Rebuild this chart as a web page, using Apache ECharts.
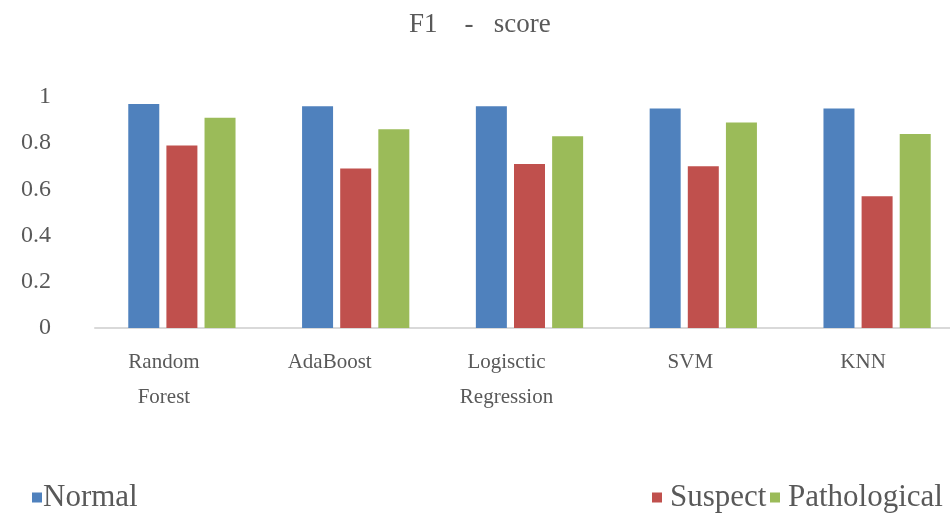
<!DOCTYPE html>
<html>
<head>
<meta charset="utf-8">
<script src="https://cdn.jsdelivr.net/npm/echarts@6/dist/echarts.min.js"></script>
<style>
html,body{margin:0;padding:0;background:#fff;}
#chart{width:950px;height:513px;}
</style>
</head>
<body>
<div id="chart"></div>
<script>
const categories = ['Random\nForest', 'AdaBoost', 'Logisctic\nRegression', 'SVM', 'KNN'];
const normal = [0.97, 0.96, 0.96, 0.95, 0.95];
const suspect = [0.79, 0.69, 0.71, 0.70, 0.57];
const pathological = [0.91, 0.86, 0.83, 0.89, 0.84];
const yTicks = { min: 0, max: 1, interval: 0.2 };

const serif = '"Liberation Serif", "Times New Roman", serif';
const textGray = '#595959';
// per-label horizontal nudge (right padding shifts centred label left)
const labelShift = [36, 52, 46, 26, 28];
const rich = {};
labelShift.forEach((p, i) => {
  rich['c' + i] = { fontFamily: serif, fontSize: 21, color: textGray, lineHeight: 35, padding: [0, p, 0, 0] };
});

const chart = echarts.init(document.getElementById('chart'));
chart.setOption({
  animation: false,
  backgroundColor: '#ffffff',
  title: {
    text: 'F1    -   score',
    left: 409, top: 11, padding: 0,
    textStyle: { fontFamily: serif, fontSize: 27, fontWeight: 'normal', color: textGray }
  },
  legend: [
    { data: ['Normal'], left: 32, top: 482, padding: 0, itemWidth: 10, itemHeight: 10, icon: 'rect', itemGap: 0,
      textStyle: { fontFamily: serif, fontSize: 31, color: textGray, padding: [0, 0, 0, -4] } },
    { data: ['Suspect'], left: 652, top: 482, padding: 0, itemWidth: 10, itemHeight: 10, icon: 'rect',
      textStyle: { fontFamily: serif, fontSize: 31, color: textGray, padding: [0, 0, 0, 3] } },
    { data: ['Pathological'], left: 770, top: 482, padding: 0, itemWidth: 10, itemHeight: 10, icon: 'rect',
      textStyle: { fontFamily: serif, fontSize: 31, color: textGray, padding: [0, 0, 0, 3] } }
  ],
  grid: { left: 95, top: 97, width: 869, height: 231, containLabel: false, outerBoundsMode: 'none' },
  xAxis: {
    type: 'category',
    data: categories,
    axisTick: { show: false },
    axisLine: { lineStyle: { color: '#D9D9D9', width: 2 } },
    axisLabel: {
      margin: 17,
      interval: 0,
      formatter: (v, i) => '{c' + i + '|' + v + '}',
      rich: rich
    }
  },
  yAxis: {
    type: 'value',
    min: yTicks.min, max: yTicks.max, interval: yTicks.interval,
    splitLine: { show: false },
    axisLine: { show: false },
    axisTick: { show: false },
    axisLabel: { margin: 44, fontFamily: serif, fontSize: 24, color: textGray }
  },
  series: [
    { name: 'Normal', type: 'bar', data: normal, barWidth: 31, barGap: '23%', itemStyle: { color: '#4F81BD' } },
    { name: 'Suspect', type: 'bar', data: suspect, barWidth: 31, barGap: '23%', itemStyle: { color: '#C0504D' } },
    { name: 'Pathological', type: 'bar', data: pathological, barWidth: 31, barGap: '23%', itemStyle: { color: '#9BBB59' } }
  ]
});
</script>
</body>
</html>
